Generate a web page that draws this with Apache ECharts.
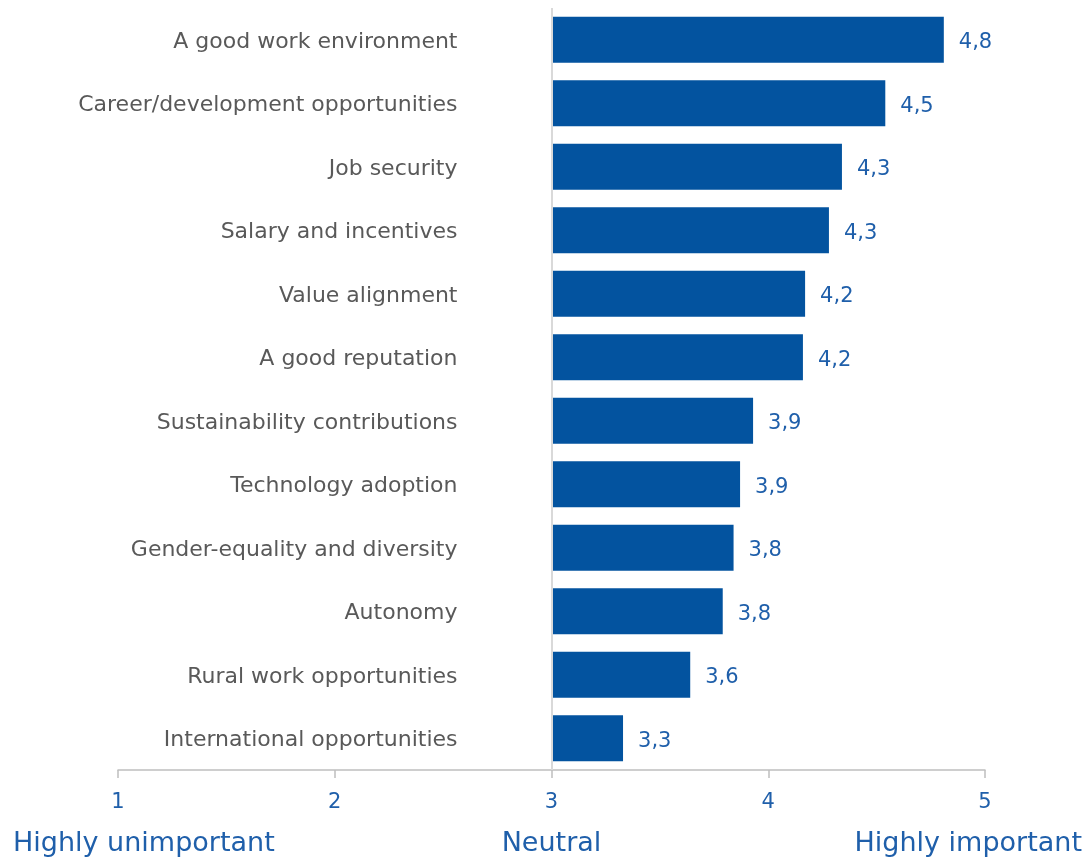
<!DOCTYPE html>
<html>
<head>
<meta charset="utf-8">
<script src="https://cdn.jsdelivr.net/npm/echarts@6/dist/echarts.min.js"></script>
<style>
  html, body { margin: 0; padding: 0; background: #ffffff; }
  #chart { width: 1086px; height: 858px; }
</style>
</head>
<body>
<div id="chart"></div>
<script>
// Importance factors, listed top to bottom
const categories = [
  'A good work environment',
  'Career/development opportunities',
  'Job security',
  'Salary and incentives',
  'Value alignment',
  'A good reputation',
  'Sustainability contributions',
  'Technology adoption',
  'Gender-equality and diversity',
  'Autonomy',
  'Rural work opportunities',
  'International opportunities'
];
// Mean score on a 1–5 scale
const scores = [4.81, 4.54, 4.34, 4.28, 4.17, 4.16, 3.93, 3.87, 3.84, 3.79, 3.64, 3.33];
// Bars grow out of the neutral midpoint
const neutral = 3;
const scaleTicks = [1, 2, 3, 4, 5];
const scaleNames = ['Highly unimportant', 'Neutral', 'Highly important'];

const FONT = '"DejaVu Sans", sans-serif';
const BLUE = '#03539f';
const TEXT_BLUE = '#1f5faa';

// Plot area in pixels
const GRID_LEFT = 118, GRID_RIGHT = 101, GRID_TOP = 8, GRID_BOTTOM = 88;
const W = 1086;
const plotW = W - GRID_LEFT - GRID_RIGHT;
const xMin = scaleTicks[0], xMax = scaleTicks[scaleTicks.length - 1];
const xNeutral = GRID_LEFT + plotW * (neutral - xMin) / (xMax - xMin);

const chart = echarts.init(document.getElementById('chart'), null, { renderer: 'canvas' });

// ECharts lists categories bottom-up, so reverse them for a top-down reading
const catsDraw = categories.slice().reverse();
const scoresDraw = scores.slice().reverse();

chart.setOption({
  animation: false,
  backgroundColor: '#ffffff',
  grid: {
    left: GRID_LEFT, right: GRID_RIGHT, top: GRID_TOP, bottom: GRID_BOTTOM,
    containLabel: false, outerBoundsMode: 'none'
  },
  xAxis: {
    type: 'value',
    min: xMin,
    max: xMax,
    interval: 1,
    axisLine: { show: true, lineStyle: { color: '#bfbfbf', width: 1.5 } },
    axisTick: { show: true, length: 8, lineStyle: { color: '#bfbfbf', width: 1.5 } },
    splitLine: { show: false },
    axisLabel: { color: TEXT_BLUE, fontSize: 21, fontFamily: FONT, margin: 22 }
  },
  yAxis: {
    type: 'category',
    data: catsDraw,
    // category axis sits on the neutral line, labels to its left
    offset: -(xNeutral - GRID_LEFT),
    axisLine: { show: false },
    axisTick: { show: false },
    axisLabel: {
      margin: 94,
      formatter: v => '{c|' + v + '}',
      rich: {
        c: { color: '#595959', fontSize: 22, fontFamily: FONT, padding: [5, 0, 0, 0] }
      }
    }
  },
  series: [
    {
      // invisible spacer up to the neutral point
      type: 'bar',
      stack: 'score',
      data: scoresDraw.map(() => neutral),
      itemStyle: { color: 'rgba(0,0,0,0)' },
      barWidth: 46,
      silent: true
    },
    {
      type: 'bar',
      stack: 'score',
      data: scoresDraw.map(v => v - neutral),
      itemStyle: { color: BLUE },
      barWidth: 46,
      label: {
        show: true,
        position: 'right',
        distance: 15,
        offset: [0, 3],
        color: TEXT_BLUE,
        fontSize: 21,
        fontFamily: FONT,
        formatter: p => scoresDraw[p.dataIndex].toFixed(1).replace('.', ',')
      },
      markLine: {
        silent: true,
        symbol: 'none',
        label: { show: false },
        lineStyle: { color: '#d9d9d9', width: 2, type: 'solid' },
        data: [{ xAxis: neutral }]
      }
    }
  ],
  // Scale descriptions under the axis, pinned to the ends and middle
  graphic: [
    { type: 'text', left: 13, top: 830, style: { text: scaleNames[0], fill: TEXT_BLUE, font: '27px ' + FONT } },
    { type: 'text', x: xNeutral, y: 830, style: { text: scaleNames[1], fill: TEXT_BLUE, font: '27px ' + FONT, textAlign: 'center' } },
    { type: 'text', right: 4, top: 830, style: { text: scaleNames[2], fill: TEXT_BLUE, font: '27px ' + FONT } }
  ]
});
</script>
</body>
</html>
